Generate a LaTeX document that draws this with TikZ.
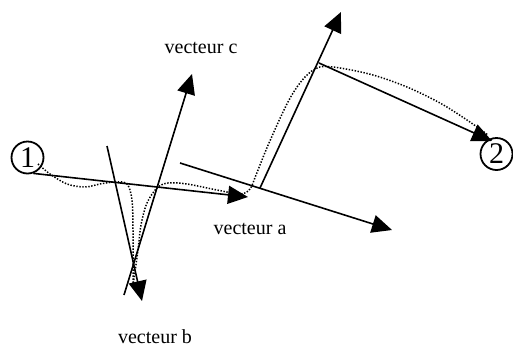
\documentclass[tikz,border=0pt]{standalone}
\usepackage{fontspec}
\setmainfont{Liberation Serif}
\usetikzlibrary{arrows.meta}
\begin{document}
\begin{tikzpicture}[x=1pt,y=-1pt,
  vec/.style={line width=1.6pt, -{Triangle[length=20pt,width=18pt]}},
  trail/.style={line width=1.5pt, dash pattern=on 1.4pt off 1.6pt},
  lbl/.style={font=\fontsize{20}{24}\selectfont, inner sep=0pt},
  pt/.style={circle, draw, line width=1.8pt, minimum size=32pt, inner sep=0pt, font=\fontsize{30}{30}\selectfont}]
\useasboundingbox (0,0) rectangle (513,349);
% points
\node[pt] (p1) at (27.5,157.5) {1};
\node[pt] (p2) at (496.5,154) {2};
% endpoints
\coordinate (a1e) at (248,197);
\coordinate (a2s) at (180,163);
\coordinate (a2e) at (392,230);
\coordinate (bs) at (107,146);
\coordinate (be) at (142,301);
\coordinate (cs) at (124,295);
\coordinate (ce) at (192,74);
\coordinate (c2s) at (260,188);
\coordinate (c2e) at (341,12);
\coordinate (ds) at (319,63);
\coordinate (de) at (492,141);
% vectors
\draw[vec] (p1.-70) -- (a1e);
\draw[vec] (a2s) -- (a2e);
\draw[vec] (bs) -- (be);
\draw[vec] (cs) -- (ce);
\draw[vec] (c2s) -- (c2e);
\draw[vec] (ds) -- (de);
% dotted trajectory
\draw[trail] plot[smooth, tension=0.55] coordinates {(38,164) (50,174) (67,184) (85,187) (100,184) (115,182) (127,184) (132,200) (133,230) (133,260) (133,286)};
\draw[trail] plot[smooth, tension=0.55] coordinates {(133,286) (138,250) (141,225) (147,203) (157,188) (168,183) (187,184) (217,190) (240,194) (250,189) (256,175) (269,143) (289,100) (305,77) (320,67) (340,68) (373,75) (407,87) (440,103) (467,120) (488,135)};
% labels
\node[lbl] (lc) at (201,48) {vecteur c};
\node[lbl] (la) at (250,229) {vecteur a};
\node[lbl] (lb) at (155,337) {vecteur b};
\end{tikzpicture}
\end{document}
